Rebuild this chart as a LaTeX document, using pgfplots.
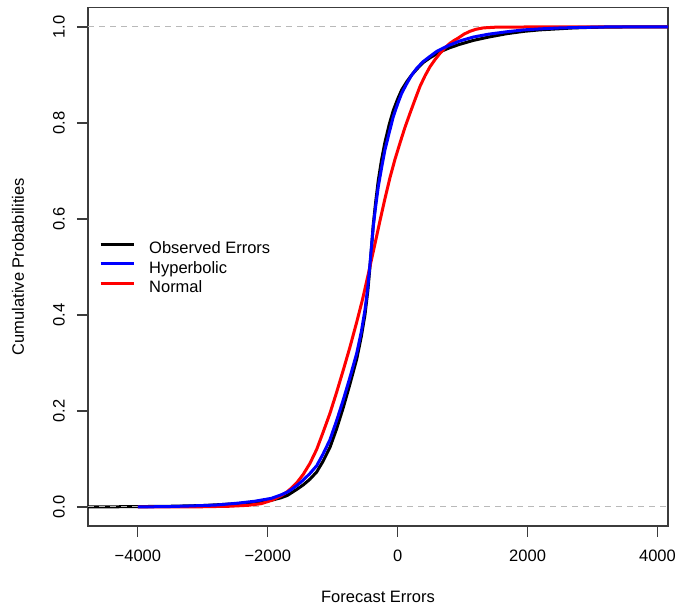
\documentclass[border=0pt]{standalone}
\usepackage{pgfplots}
\pgfplotsset{compat=1.18}
\usepackage{fontspec}
\setmainfont{Liberation Sans}
\definecolor{axgray}{RGB}{60,60,60}
\definecolor{dgray}{RGB}{185,185,185}
\begin{document}
\fontsize{16.5}{19.8}\selectfont
\begin{tikzpicture}
\path[use as bounding box] (0,0) rectangle (677pt,607pt);
\begin{axis}[
  at={(88pt,81pt)}, anchor=south west,
  scale only axis, width=580pt, height=518.7pt,
  xmin=-4768, xmax=4162, ymin=-0.0396, ymax=1.041,
  axis line style={axgray, line width=1.2pt},
  tick style={axgray, line width=1.2pt},
  tick align=outside, major tick length=11pt,
  xtick={-4000,-2000,0,2000,4000},
  xticklabels={−4000,−2000,0,2000,4000},
  ytick={0,0.2,0.4,0.6,0.8,1},
  yticklabels={0.0,0.2,0.4,0.6,0.8,1.0},
  xtick pos=bottom, ytick pos=left,
  xticklabel shift=13pt, yticklabel shift=12pt,
  xticklabel style={inner sep=0pt, anchor=north, font=\fontsize{16.5}{19.8}\selectfont},
  yticklabel style={inner sep=0pt, rotate=90, anchor=south, font=\fontsize{16.5}{19.8}\selectfont},
  xlabel={Forecast Errors},
  ylabel={Cumulative Probabilities},
  xlabel style={at={(axis description cs:0.5,-0.1369)}, anchor=center, inner sep=0pt, font=\fontsize{16.5}{19.8}\selectfont},
  ylabel style={at={(axis description cs:-0.1207,0.5)}, anchor=center, rotate=0, inner sep=0pt, font=\fontsize{16.5}{19.8}\selectfont},
  legend style={draw=none, fill=none, at={(axis description cs:0.0189,0.498)}, anchor=west,
    inner sep=0pt, outer sep=0pt, row sep=6.5pt, column sep=14pt,
    nodes={inner sep=0pt, text height=12pt, text depth=1pt},
    font=\fontsize{16.5}{19.8}\selectfont},
  legend cell align=left,
  legend image code/.code={\draw[#1] (0pt,4pt) -- (33pt,4pt);},
]
% Observed (ecdf)
\addplot[black, line width=3pt, forget plot] coordinates {
(-4768,0) (-4000,0.0008) (-3500,0.0015) (-3000,0.003) (-2459,0.007) (-2200,0.010)
(-1946,0.014) (-1800,0.019) (-1700,0.024) (-1630,0.030) (-1550,0.037) (-1454,0.046)
(-1350,0.058) (-1247,0.073) (-1150,0.095) (-1043,0.124) (-940,0.163) (-838,0.207)
(-735,0.256) (-631,0.308) (-560,0.355) (-504,0.400) (-460,0.450) (-427,0.500)
(-400,0.545) (-376,0.588) (-340,0.634) (-299,0.680) (-250,0.722) (-196,0.760)
(-130,0.797) (-68,0.826) (0,0.850) (62,0.869) (140,0.886) (216,0.900) (300,0.913)
(394,0.926) (500,0.936) (600,0.944) (700,0.951) (805,0.957) (959,0.964) (1164,0.972)
(1400,0.979) (1679,0.986) (1950,0.991) (2191,0.994) (2450,0.996) (2704,0.998)
(3000,0.9993) (3500,1) (4162,1)
};
% reference lines
\addplot[dgray, line width=1pt, dash pattern=on 6pt off 5pt, forget plot] coordinates {(-4768,0) (4162,0)};
\addplot[dgray, line width=1pt, dash pattern=on 6pt off 5pt, forget plot] coordinates {(-4768,1) (4162,1)};
% Normal
\addplot[red, line width=3pt, forget plot] coordinates {
(-4000,0) (-3000,0.0005) (-2600,0.0015) (-2300,0.0035) (-2100,0.007) (-1946,0.0135)
(-1800,0.023) (-1700,0.032) (-1630,0.040) (-1550,0.051) (-1454,0.068) (-1350,0.091)
(-1247,0.120) (-1150,0.155) (-1043,0.195) (-940,0.239) (-838,0.285) (-735,0.333)
(-631,0.385) (-540,0.433) (-453,0.485) (-350,0.548) (-273,0.596) (-200,0.640)
(-119,0.686) (-40,0.725) (35,0.758) (110,0.790) (189,0.820) (265,0.848) (343,0.876)
(420,0.898) (497,0.917) (575,0.932) (651,0.945) (730,0.957) (805,0.966) (870,0.972)
(933,0.977) (1020,0.985) (1113,0.991) (1200,0.995) (1314,0.998) (1500,0.9995)
(2000,1) (4162,1)
};
% Hyperbolic
\addplot[blue, line width=3pt, forget plot] coordinates {
(-4000,0) (-3500,0.001) (-3230,0.002) (-2800,0.004) (-2459,0.008) (-2200,0.012)
(-1946,0.018) (-1800,0.025) (-1700,0.031) (-1630,0.037) (-1550,0.045) (-1454,0.056)
(-1350,0.070) (-1247,0.086) (-1150,0.110) (-1043,0.140) (-940,0.180) (-838,0.223)
(-735,0.270) (-631,0.320) (-560,0.365) (-504,0.410) (-460,0.458) (-427,0.505)
(-400,0.548) (-376,0.584) (-340,0.625) (-299,0.667) (-250,0.705) (-196,0.744)
(-130,0.780) (-68,0.813) (0,0.840) (62,0.862) (140,0.882) (216,0.900) (300,0.915)
(394,0.928) (500,0.939) (600,0.949) (700,0.956) (805,0.9625) (959,0.971) (1164,0.979)
(1400,0.985) (1679,0.990) (1950,0.994) (2191,0.996) (2500,0.998) (2800,0.999)
(3200,1) (4162,1)
};
\addlegendimage{black, line width=3.2pt}
\addlegendentry{Observed Errors}
\addlegendimage{blue, line width=3.2pt}
\addlegendentry{Hyperbolic}
\addlegendimage{red, line width=3.2pt}
\addlegendentry{Normal}
\end{axis}
\end{tikzpicture}
\end{document}
